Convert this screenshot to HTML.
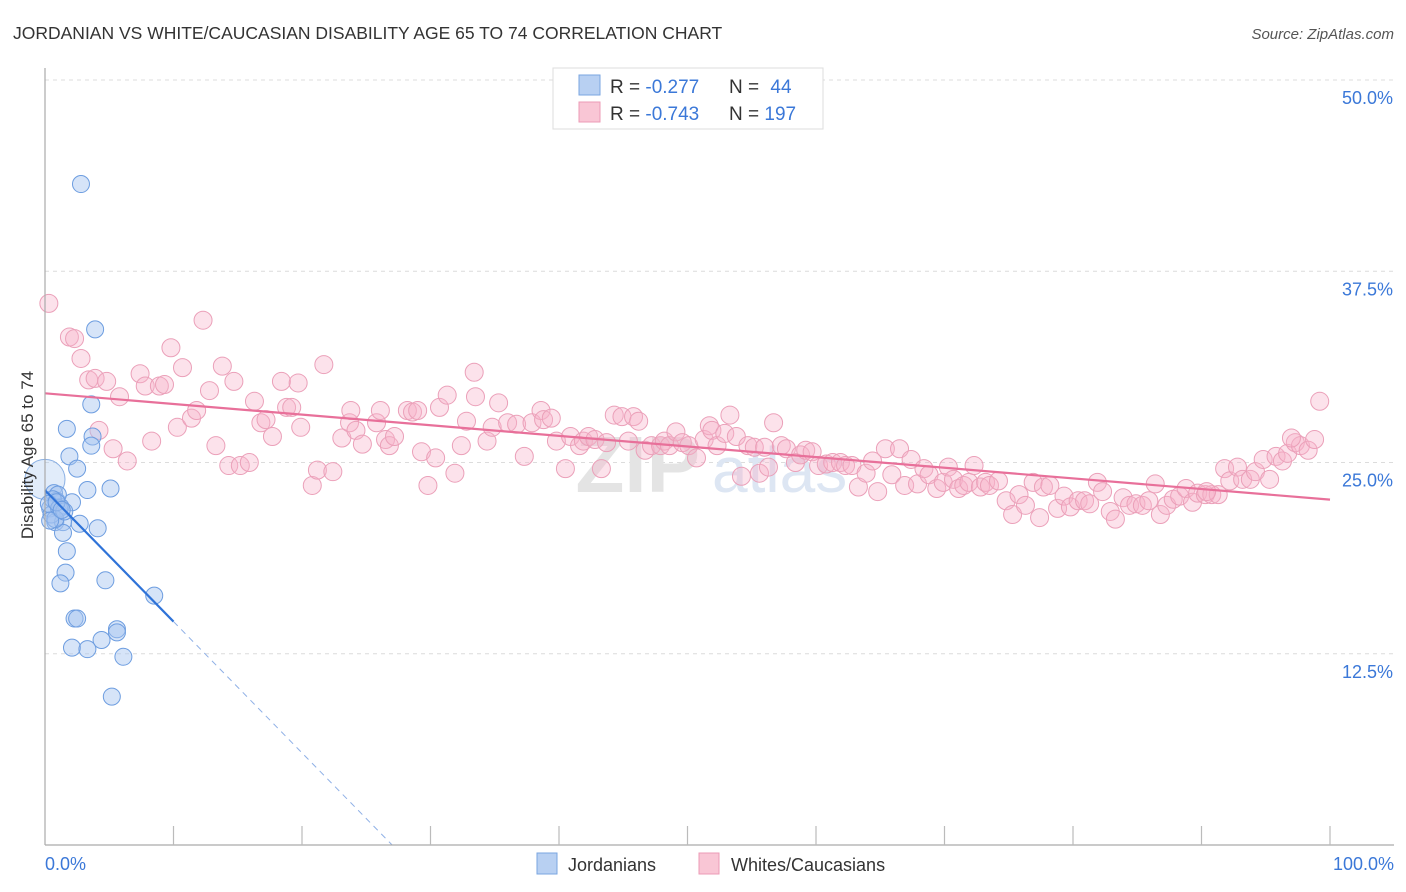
<!DOCTYPE html>
<html><head><meta charset="utf-8">
<style>
body{margin:0;background:#fff;font-family:"Liberation Sans",sans-serif;}
#wrap{position:relative;width:1406px;height:892px;overflow:hidden;}
svg text{font-family:"Liberation Sans",sans-serif;}
</style></head>
<body>
<div id="wrap">
<svg id="chart" width="1406" height="892">
  <text x="13" y="39" font-size="17.5" fill="#333">JORDANIAN VS WHITE/CAUCASIAN DISABILITY AGE 65 TO 74 CORRELATION CHART</text>
  <text x="1394" y="39" font-size="15" fill="#555" font-style="italic" text-anchor="end">Source: ZipAtlas.com</text>
  <g id="grid"></g>
  <text x="700" y="492" font-size="80" fill="#e4e4e4" font-family="Liberation Serif" text-anchor="end" font-weight="bold">ZIP</text>
  <text x="712" y="492" font-size="64" fill="#dde6f3" text-anchor="start">atlas</text>
  <g id="points"></g>
  <g id="trends"></g>
  <g id="axes"></g>
  <text transform="translate(33,455) rotate(-90)" font-size="17" fill="#333" text-anchor="middle">Disability Age 65 to 74</text>
  <g>
    <rect x="553" y="68" width="270" height="61" fill="#fff" stroke="#ddd"/>
    <rect x="579" y="75" width="21" height="20" fill="#b8d0f2" stroke="#7aa6e0"/>
    <rect x="579" y="102" width="21" height="20" fill="#f9c6d5" stroke="#ec9bb6"/>
    <text x="610" y="93" font-size="19" fill="#333">R = <tspan fill="#3b78d8">-0.277</tspan></text>
    <text x="729" y="93" font-size="19" fill="#333">N = <tspan fill="#3b78d8" dx="6">44</tspan></text>
    <text x="610" y="120" font-size="19" fill="#333">R = <tspan fill="#3b78d8">-0.743</tspan></text>
    <text x="729" y="120" font-size="19" fill="#333">N = <tspan fill="#3b78d8">197</tspan></text>
  </g>
  <g>
    <rect x="537" y="853" width="20" height="21" fill="#b8d0f2" stroke="#7aa6e0"/>
    <text x="568" y="871" font-size="18" fill="#333">Jordanians</text>
    <rect x="699" y="853" width="20" height="21" fill="#f9c6d5" stroke="#ec9bb6"/>
    <text x="731" y="871" font-size="18" fill="#333">Whites/Caucasians</text>
  </g>
</svg>
</div>
<script>
const yTicks = [12.5, 25.0, 37.5, 50.0];
const yTickLabels = ["12.5%", "25.0%", "37.5%", "50.0%"];
const xTickLabels = ["0.0%", "100.0%"];
const blueX = [2.8,3.9,3.6,1.7,3.7,3.6,1.9,2.5,3.3,5.1,0.7,0.9,2.1,1.2,0.4,0.8,1.4,2.7,4.1,1.4,1.7,1.6,1.2,4.7,8.5,2.3,2.5,5.6,5.6,4.4,2.1,3.3,6.1,5.2,0.5,1.0,0.6,0.3,1.1,0.8,1.5,0.4,0.9,1.3];
const blueY = [43.2,33.7,28.8,27.2,26.7,26.1,25.4,24.6,23.2,23.3,23.0,22.5,22.4,22.1,22.0,21.1,21.1,21.0,20.7,20.4,19.2,17.8,17.1,17.3,16.3,14.8,14.8,14.1,13.9,13.4,12.9,12.8,12.3,9.7,21.6,22.9,22.6,22.3,22.0,21.3,21.8,21.2,22.4,21.9];
const pinkX = [0.3,1.9,2.3,2.8,3.4,3.9,4.8,5.8,5.3,6.4,4.2,7.4,7.8,8.9,9.3,8.3,9.8,10.7,10.3,11.4,11.8,12.3,12.8,13.3,13.8,14.3,14.7,15.2,15.9,16.3,16.8,17.2,17.7,18.4,18.8,19.2,19.7,19.9,20.8,21.2,21.7,22.4,23.1,23.7,23.8,24.2,24.7,25.8,26.1,26.5,26.8,27.2,28.2,28.6,29.0,29.3,29.8,30.4,30.7,31.3,31.9,32.4,32.8,33.4,33.5,34.4,34.8,35.3,36.0,36.7,37.3,37.9,38.6,38.8,39.4,39.8,40.5,40.9,41.6,41.9,42.3,42.8,43.3,43.7,44.3,44.9,45.4,45.8,46.2,46.7,47.2,47.9,48.2,48.6,49.1,49.6,50.1,50.7,51.3,51.7,51.9,52.3,52.9,53.3,53.8,54.2,54.7,55.2,55.6,56.0,56.3,56.7,57.3,57.7,58.4,58.8,59.2,59.7,60.2,60.8,61.3,61.9,62.3,62.8,63.3,63.9,64.4,64.8,65.4,65.9,66.5,66.9,67.4,67.9,68.4,68.8,69.4,69.9,70.3,70.7,71.1,71.5,71.9,72.3,72.8,73.2,73.5,74.2,74.8,75.3,75.8,76.3,76.9,77.4,77.7,78.2,78.8,79.3,79.8,80.4,80.9,81.3,81.9,82.3,82.9,83.3,83.9,84.4,84.9,85.4,85.9,86.4,86.8,87.3,87.8,88.3,88.8,89.3,89.7,90.3,90.8,91.3,91.8,92.2,92.8,93.2,93.8,94.2,94.8,95.3,95.8,96.3,96.7,97.3,97.7,98.3,98.8,99.2,97.0,90.4];
const pinkY = [35.4,33.2,33.1,31.8,30.4,30.5,30.3,29.3,25.9,25.1,27.1,30.8,30.0,30.0,30.1,26.4,32.5,31.2,27.3,27.9,28.4,34.3,29.7,26.1,31.3,24.8,30.3,24.8,25.0,29.0,27.6,27.8,26.7,30.3,28.6,28.6,30.2,27.3,23.5,24.5,31.4,24.4,26.6,27.6,28.4,27.1,26.2,27.6,28.4,26.5,26.1,26.7,28.4,28.3,28.4,25.7,23.5,25.3,28.6,29.4,24.3,26.1,27.7,30.9,29.3,26.4,27.3,28.9,27.6,27.5,25.4,27.6,28.4,27.8,27.9,26.4,24.6,26.7,26.1,26.4,26.7,26.5,24.6,26.3,28.1,28.0,26.4,28.0,27.7,25.8,26.1,26.1,26.4,26.1,27.0,26.3,26.1,25.3,26.5,27.4,27.1,26.1,26.9,28.1,26.7,24.1,26.1,26.0,24.3,26.0,24.7,27.6,26.1,25.9,25.0,25.5,25.8,25.7,24.8,24.9,25.0,25.0,24.8,24.8,23.4,24.3,25.1,23.1,25.9,24.2,25.9,23.5,25.2,23.6,24.6,24.2,23.3,23.7,24.7,23.9,23.3,23.5,23.7,24.8,23.4,23.7,23.5,23.8,22.5,21.6,22.9,22.2,23.7,21.4,23.4,23.5,22.0,22.8,22.1,22.5,22.5,22.3,23.7,23.1,21.8,21.3,22.7,22.2,22.3,22.2,22.5,23.6,21.6,22.2,22.6,22.8,23.3,22.4,23.0,22.9,22.9,22.9,24.6,23.8,24.7,23.9,23.9,24.4,25.2,23.9,25.4,25.1,25.6,26.3,26.1,25.8,26.5,29.0,26.6,23.1];

const NS = "http://www.w3.org/2000/svg";
const X0 = 45, X1 = 1330, Y0 = 845, YPER = 15.3;
function sx(v){ return X0 + v / 100 * (X1 - X0); }
function sy(v){ return Y0 - v * YPER; }
function mk(tag, attrs, parent){ const e = document.createElementNS(NS, tag); for (const k in attrs) e.setAttribute(k, attrs[k]); parent.appendChild(e); return e; }

const grid = document.getElementById('grid');
yTicks.forEach((t, i) => {
  const l = mk('line', {x1: X0, x2: 1394, y1: sy(t), y2: sy(t), stroke: '#dcdcdc', 'stroke-dasharray': '4,4'}, grid);
  
  
  const tx = mk('text', {x: 1393, y: sy(t) + 24, 'font-size': 18, fill: '#3b78d8', 'text-anchor': 'end'}, grid);
  tx.textContent = yTickLabels[i];
  
  
});

const axes = document.getElementById('axes');
const ya = mk('line', {x1: X0, x2: X0, y1: 68, y2: Y0, stroke: '#aaa', 'stroke-width': 1.2}, axes);


const xa = mk('line', {x1: X0, x2: 1394, y1: Y0, y2: Y0, stroke: '#aaa', 'stroke-width': 1.2}, axes);


for (let i = 1; i <= 10; i++) {
  const tk = mk('line', {x1: sx(i * 10), x2: sx(i * 10), y1: Y0 - 19, y2: Y0, stroke: '#bbb', 'stroke-width': 1.2}, axes);
  
  
}
const xl0 = mk('text', {x: X0, y: 870, 'font-size': 18, fill: '#3b78d8'}, axes);
xl0.textContent = xTickLabels[0];


const xl1 = mk('text', {x: 1394, y: 870, 'font-size': 18, fill: '#3b78d8', 'text-anchor': 'end'}, axes);
xl1.textContent = xTickLabels[1];



const pts = document.getElementById('points');
pinkX.forEach((x, i) => {
  const c = mk('circle', {cx: sx(x), cy: sy(pinkY[i]), r: 9, fill: 'rgba(248,180,202,0.38)', stroke: '#eba0b9', 'stroke-width': 1}, pts);
  
  
});
const big = mk('circle', {cx: sx(0), cy: sy(23.9), r: 20, fill: 'rgba(170,200,240,0.35)', stroke: '#8ab0e4', 'stroke-width': 1}, pts);


blueX.forEach((x, i) => {
  const c = mk('circle', {cx: sx(x), cy: sy(blueY[i]), r: 8.5, fill: 'rgba(165,196,240,0.45)', stroke: '#6d9de0', 'stroke-width': 1}, pts);
  
  
});

function fit(xs, ys){
  const n = xs.length; let mx = 0, my = 0;
  for (let i = 0; i < n; i++){ mx += xs[i]; my += ys[i]; }
  mx /= n; my /= n; let sxy = 0, sxx = 0;
  for (let i = 0; i < n; i++){ sxy += (xs[i]-mx)*(ys[i]-my); sxx += (xs[i]-mx)**2; }
  const b = sxy / sxx; return [my - b * mx, b];
}
const tr = document.getElementById('trends');
const [pa, pb] = fit(pinkX, pinkY);
const pl = mk('line', {x1: sx(0), y1: sy(pa), x2: sx(100), y2: sy(pa + pb * 100), stroke: '#e8709a', 'stroke-width': 2.2}, tr);


const [ba, bb] = fit(blueX, blueY);
const bl = mk('line', {x1: sx(0), y1: sy(ba), x2: sx(10), y2: sy(ba + bb * 10), stroke: '#2f73d8', 'stroke-width': 2.2}, tr);


const xEnd = bb < 0 ? Math.min(100, -ba / bb) : 100;
const bd = mk('line', {x1: sx(10), y1: sy(ba + bb * 10), x2: sx(xEnd), y2: sy(ba + bb * xEnd), stroke: '#8fb0e6', 'stroke-width': 1, 'stroke-dasharray': '6,5'}, tr);


</script>
</body></html>
